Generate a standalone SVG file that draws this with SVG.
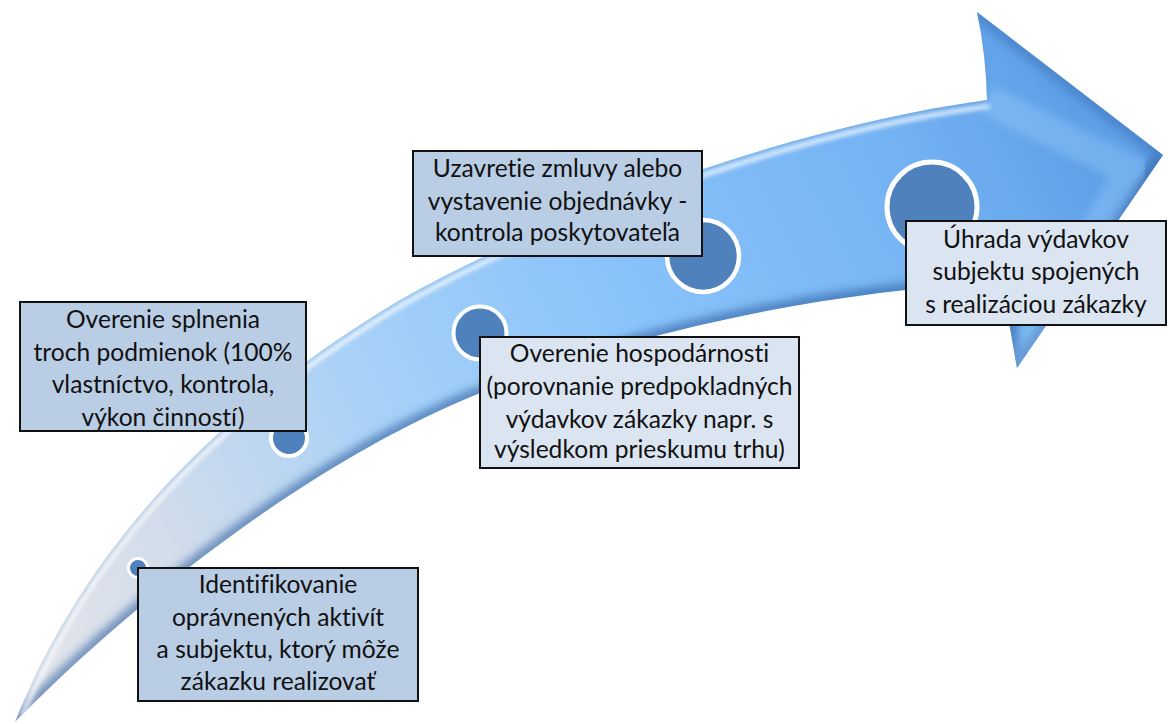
<svg xmlns="http://www.w3.org/2000/svg" width="1168" height="724" viewBox="0 0 1168 724">
<style>
.box{fill:#b9cde5;stroke:#111;stroke-width:2}
.box.light{fill:#dbe5f1}
.dot{fill:#4f81bd;stroke:#fff}
.lbl{font-family:Lato,"Liberation Sans",sans-serif;font-size:24.6px;fill:#111;text-anchor:middle;font-variant-ligatures:none}
</style>
<defs>
<linearGradient id="body" gradientUnits="userSpaceOnUse" x1="15" y1="722" x2="1100" y2="160">
<stop offset="0" stop-color="#e6e7ec"/>
<stop offset="0.18" stop-color="#d2dcea"/>
<stop offset="0.38" stop-color="#a8d1f7"/>
<stop offset="0.6" stop-color="#8ac3fa"/>
<stop offset="0.85" stop-color="#74b3f3"/>
<stop offset="1" stop-color="#5e9fe6"/>
</linearGradient>
<clipPath id="arrowClip">
<path d="M15,722 C80,560 200,420 400,300 C560,210 800,125 987,100 Q986,55 977,12 L1163,155 L1017,368 Q1009,325 1003,282 C800,293 620,338 480,393 C290,470 110,625 15,722 Z"/>
</clipPath>
<filter id="blur4" x="-10%" y="-10%" width="120%" height="120%"><feGaussianBlur stdDeviation="4"/></filter>
<filter id="blur2" x="-10%" y="-10%" width="120%" height="120%"><feGaussianBlur stdDeviation="2"/></filter>
</defs>
<rect width="1168" height="724" fill="#fff"/>
<g id="connectors">
<g id="timeline-arrow">
<path d="M15,722 C80,560 200,420 400,300 C560,210 800,125 987,100 Q986,55 977,12 L1163,155 L1017,368 Q1009,325 1003,282 C800,293 620,338 480,393 C290,470 110,625 15,722 Z" fill="url(#body)"/>
<g clip-path="url(#arrowClip)">
<path d="M15,722 C110,625 290,470 480,393 C620,338 800,293 1003,282 L1017,368 L1163,155" fill="none" stroke="#2c5e9e" stroke-opacity="0.6" stroke-width="14" filter="url(#blur4)"/>
<path d="M977,12 L1163,155" fill="none" stroke="#3f78c2" stroke-opacity="0.6" stroke-width="16" filter="url(#blur4)"/>
<path d="M22,716 C87,558 207,421 405,303 C565,214 805,130 990,106" fill="none" stroke="#ffffff" stroke-opacity="0.75" stroke-width="5" filter="url(#blur2)"/>
<path d="M15,722 C80,560 200,420 400,300 C560,210 800,125 987,100 Q986,55 977,12" fill="none" stroke="#5a8cc8" stroke-opacity="0.35" stroke-width="3" filter="url(#blur2)"/>
<path d="M987,100 L1130,170 L1017,368" fill="none" stroke="#9fd0ff" stroke-opacity="0.35" stroke-width="30" filter="url(#blur4)"/>
</g>
</g>
</g>
<g id="step1">
<circle class="dot" cx="138" cy="568" r="9.5" stroke-width="3"/>
<rect class="box" x="138" y="568" width="280" height="133"/>
<text class="lbl" x="278"><tspan x="278" y="593">Identifikovanie</tspan><tspan x="278" y="626">oprávnených aktivít</tspan><tspan x="278" y="658">a subjektu, ktorý môže</tspan><tspan x="278" y="690">zákazku realizovať</tspan></text>
</g>
<g id="step2">
<circle class="dot" cx="289" cy="438" r="18" stroke-width="4"/>
<rect class="box" x="20" y="302" width="286" height="129"/>
<text class="lbl" x="163"><tspan x="163" y="328">Overenie splnenia</tspan><tspan x="163" y="361">troch podmienok (100%</tspan><tspan x="163" y="393">vlastníctvo, kontrola,</tspan><tspan x="163" y="426">výkon činností)</tspan></text>
</g>
<g id="step3">
<circle class="dot" cx="480" cy="333" r="26.5" stroke-width="4"/>
<rect class="box light" x="480" y="337" width="319" height="131"/>
<text class="lbl" x="639.5"><tspan x="639.5" y="362">Overenie hospodárnosti</tspan><tspan x="639.5" y="395">(porovnanie predpokladných</tspan><tspan x="639.5" y="428">výdavkov zákazky napr. s</tspan><tspan x="639.5" y="458">výsledkom prieskumu trhu)</tspan></text>
</g>
<g id="step4">
<circle class="dot" cx="703" cy="256" r="36" stroke-width="4.5"/>
<rect class="box" x="413" y="151" width="289" height="105"/>
<text class="lbl" x="557.5"><tspan x="557.5" y="177">Uzavretie zmluvy alebo</tspan><tspan x="557.5" y="210">vystavenie objednávky -</tspan><tspan x="557.5" y="241">kontrola poskytovateľa</tspan></text>
</g>
<g id="step5">
<circle class="dot" cx="932" cy="207" r="45" stroke-width="5"/>
<rect class="box light" x="906" y="221" width="260" height="104"/>
<text class="lbl" x="1036"><tspan x="1036" y="248">Úhrada výdavkov</tspan><tspan x="1036" y="280">subjektu spojených</tspan><tspan x="1036" y="313">s realizáciou zákazky</tspan></text>
</g>
</svg>
